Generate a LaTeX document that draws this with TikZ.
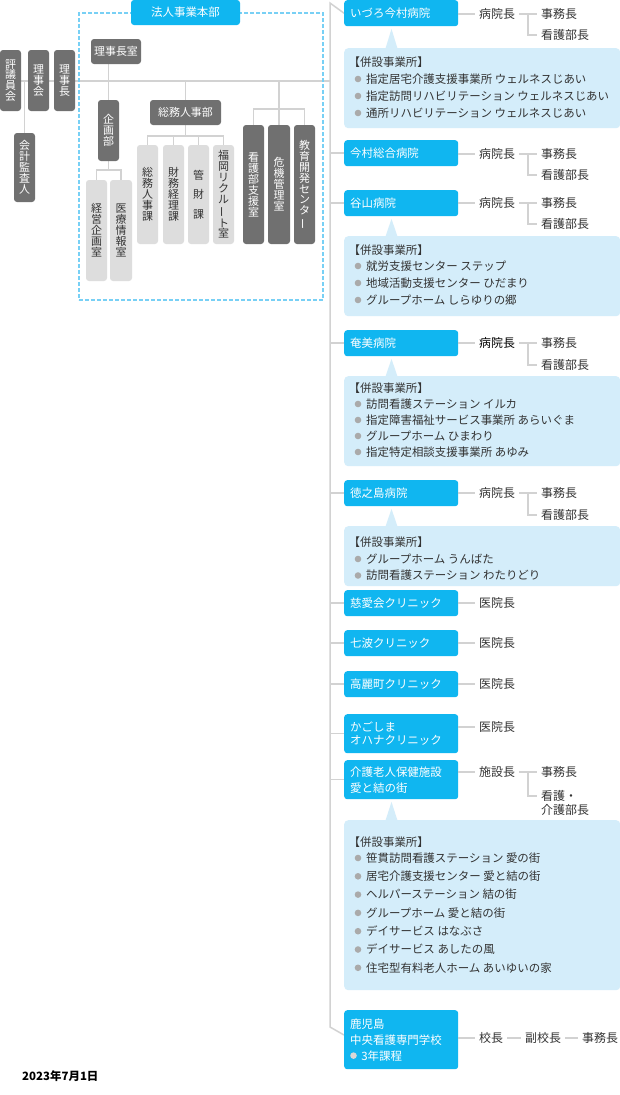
\documentclass[tikz,border=0pt]{standalone}
\usepackage{fontspec}
\setmainfont{Noto Sans CJK JP}
\usepackage{graphicx}
\usetikzlibrary{calc,backgrounds}
\definecolor{hblue}{RGB}{16,182,240}
\definecolor{cblue}{RGB}{212,237,250}
\definecolor{dblue}{RGB}{120,208,245}
\definecolor{dgray}{RGB}{112,112,112}
\definecolor{lgray}{RGB}{221,221,221}
\definecolor{lnc}{RGB}{210,210,210}
\definecolor{txt}{RGB}{51,51,51}
\definecolor{bulc}{RGB}{170,170,170}
\definecolor{bulw}{RGB}{215,215,215}
\newcommand{\vbar}{\rotatebox[origin=c]{90}{ー}}
\newcommand{\wbul}{\tikz[baseline={(0,-4.4bp)}]\fill[bulw] (0,0) circle (3.3bp);}
\tikzset{
 ln/.style={draw=lnc, line width=1.5bp},
 dbox/.style={fill=dgray, text=white, rounded corners=3bp, inner sep=0pt, align=center, font=\fontsize{11}{11}\selectfont},
 lbox/.style={fill=lgray, text=txt, rounded corners=3bp, inner sep=0pt, align=center, font=\fontsize{11}{11}\selectfont},
 hosp/.style={fill=hblue, text=white, rounded corners=3bp, text width=102bp, inner xsep=6bp, inner ysep=0pt, align=left, anchor=north west, minimum height=26bp, font=\fontsize{11.5}{16}\selectfont},
 cbox/.style={fill=cblue, rounded corners=4bp, minimum width=276bp, inner sep=0pt, anchor=north west},
 ctext/.style={text=txt, inner sep=0pt, anchor=west, font=\fontsize{11.5}{14}\selectfont},
 ttl/.style={text=txt, inner xsep=4bp, inner ysep=0pt, anchor=west, font=\fontsize{12}{14}\selectfont},
}
% callout: #1 name, #2 top, #3 height, #4 header y, #5 first y, #6 spacing, #7 items
\newcommand{\mkcallout}[7]{%
  \node[cbox, minimum height=#3bp] (#1) at (344,#2) {};
  \node[ctext] (#1h) at (348.5,#4) {【併設事業所】};
  \foreach \t [count=\i from 0] in {#7} {
    \fill[bulc] (358,{#5+\i*#6}) circle (3.3bp);
    \node[ctext] (#1l\i) at (366,{#5+\i*#6}) {\t};
  }
}
\newcommand{\pointer}[2]{%
  \fill[cblue] ($(#1.north west)+(41.5,0.5)$) -- ($(#2.south west)+(47.5,2.5)$) -- ($(#1.north west)+(53.5,0.5)$) -- cycle;
}
% trio: #1 idx, #2 y1, #3 y2, #4 first title, #5 colour
\newcommand{\trio}[5]{%
  \node[ttl, text=#5] (b#1) at (475,#2) {#4};
  \node[ttl] (j#1) at (537,#2) {事務長};
  \node[ttl] (k#1) at (537,#3) {看護部長};
  \draw[ln] (h#1.east |- b#1.west) -- (b#1.west);
  \draw[ln] (b#1.east) -- (j#1.west);
  \draw[ln] ($(b#1.east)!.5!(j#1.west)$) |- (k#1.west);
}
\newcommand{\solo}[3]{%
  \node[ttl] (b#1) at (475,#2) {#3};
  \draw[ln] (h#1.east |- b#1.west) -- (b#1.west);
}
\begin{document}
\begin{tikzpicture}[x=1bp,y=-1bp]
\useasboundingbox (0,0) rectangle (620,1095);

% ---------- left organisation ----------
\node[dbox, minimum width=21bp, minimum height=61bp] (hyogi) at (10.5,80.5) {評\\議\\員\\会};
\node[dbox, minimum width=21bp, minimum height=61bp] (rijikai) at (38.5,80.5) {理\\事\\会};
\node[dbox, minimum width=21bp, minimum height=61bp] (rijicho) at (64.5,80.5) {理\\事\\長};
\node[dbox, minimum width=21bp, minimum height=69bp] (kaikei) at (24.5,167.5) {会\\計\\監\\査\\人};

\node[draw=dblue, line width=1.3bp, dash pattern=on 4bp off 2bp, minimum width=244bp, minimum height=287bp, inner sep=0pt] (hq) at (201,156.5) {};
\node[fill=hblue, text=white, rounded corners=3bp, minimum width=109bp, minimum height=25bp, inner sep=0pt, font=\fontsize{11.5}{12}\selectfont] (honbu) at (185.5,12.5) {法人事業本部};

\node[dbox, minimum width=50bp, minimum height=25bp] (rjs) at (116,51.5) {理事長室};
\node[dbox, minimum width=21bp, minimum height=61bp] (kikaku) at (108.5,130.5) {企\\画\\部};
\node[lbox, minimum width=21bp, minimum height=101bp] (keiei) at (96.5,230.5) {経\\営\\企\\画\\室};
\node[lbox, minimum width=22bp, minimum height=101bp] (iryo) at (121,230.5) {医\\療\\情\\報\\室};

\node[dbox, minimum width=71bp, minimum height=25bp] (somu) at (185.5,112.5) {総務人事部};
\node[lbox, minimum width=21bp, minimum height=99bp] (s1) at (147.5,194.5) {総\\務\\人\\事\\課};
\node[lbox, minimum width=21bp, minimum height=99bp] (s2) at (173.5,194.5) {財\\務\\経\\理\\課};
\node[lbox, minimum width=21bp, minimum height=99bp, font=\fontsize{11}{19.5}\selectfont] (s3) at (198.5,194.5) {管\\財\\課};
\node[lbox, minimum width=21bp, minimum height=99bp] (s4) at (223.5,194.5) {福\\岡\\リ\\ク\\ル\\\vbar\\ト\\室};

\node[dbox, minimum width=21bp, minimum height=119bp] (r1) at (253.5,184.5) {看\\護\\部\\支\\援\\室};
\node[dbox, minimum width=22bp, minimum height=119bp] (r2) at (279,184.5) {危\\機\\管\\理\\室};
\node[dbox, minimum width=21bp, minimum height=119bp] (r3) at (304.5,184.5) {教\\育\\開\\発\\セ\\ン\\タ\\\vbar};

% ---------- right column ----------
\node[hosp] (h1) at (344,0) {いづろ今村病院};
\node[hosp] (h2) at (344,140) {今村総合病院};
\node[hosp] (h3) at (344,190) {谷山病院};
\node[hosp] (h4) at (344,330) {奄美病院};
\node[hosp] (h5) at (344,480) {徳之島病院};
\node[hosp] (h6) at (344,590) {慈愛会クリニック};
\node[hosp] (h7) at (344,630) {七波クリニック};
\node[hosp] (h8) at (344,671) {高麗町クリニック};
\node[hosp, minimum height=39bp, font=\fontsize{11.5}{13.5}\selectfont] (h9) at (344,714) {かごしま\\オハナクリニック};
\node[hosp, minimum height=39bp] (h10) at (344,760) {介護老人保健施設\\愛と結の街};
\node[hosp, minimum height=59bp] (h11) at (344,1010) {鹿児島\\中央看護専門学校\\\wbul\hspace{4.5bp}3年課程};

\mkcallout{c1}{48}{80}{62}{79}{17}{指定居宅介護支援事業所 ウェルネスじあい,指定訪問リハビリテーション ウェルネスじあい,通所リハビリテーション ウェルネスじあい}
\pointer{c1}{h1}
\mkcallout{c2}{236}{80}{250.5}{266}{17}{就労支援センター ステップ,地域活動支援センター ひだまり,グループホーム しらゆりの郷}
\pointer{c2}{h3}
\mkcallout{c3}{376}{90}{388}{404}{16}{訪問看護ステーション イルカ,指定障害福祉サービス事業所 あらいぐま,グループホーム ひまわり,指定特定相談支援事業所 あゆみ}
\pointer{c3}{h4}
\mkcallout{c4}{526}{60}{542}{559}{16.5}{グループホーム うんばた,訪問看護ステーション わたりどり}
\pointer{c4}{h5}
\mkcallout{c5}{820}{170}{842}{858}{18.3}{笹貫訪問看護ステーション 愛の街,居宅介護支援センター 愛と結の街,ヘルパーステーション 結の街,グループホーム 愛と結の街,デイサービス はなぶさ,デイサービス あしたの風,住宅型有料老人ホーム あいゆいの家}
\pointer{c5}{h10}

\trio{1}{14}{35}{病院長}{txt}
\trio{2}{154}{175}{病院長}{txt}
\trio{3}{203}{224}{病院長}{txt}
\trio{4}{343}{365}{病院長}{black}
\trio{5}{493}{515}{病院長}{txt}
\solo{6}{603}{医院長}
\solo{7}{643}{医院長}
\solo{8}{684}{医院長}
\solo{9}{727}{医院長}

\node[ttl] (b10) at (475,772) {施設長};
\node[ttl] (j10) at (537,772) {事務長};
\node[ttl, align=left] (k10) at (537,803) {看護・\\介護部長};
\draw[ln] (h10.east |- b10.west) -- (b10.west);
\draw[ln] (b10.east) -- (j10.west);
\draw[ln] ($(b10.east)!.5!(j10.west)$) |- ($(k10.west)+(0,-7)$);

\node[ttl] (b11) at (475,1038) {校長};
\node[ttl] (v11) at (521,1038) {副校長};
\node[ttl] (j11) at (578,1038) {事務長};
\draw[ln] (h11.east |- b11.west) -- (b11.west);
\draw[ln] (b11.east) -- (v11.west);
\draw[ln] (v11.east) -- (j11.west);

\node[anchor=west, inner sep=0pt, font=\fontsize{11.5}{13}\selectfont\bfseries] (date) at (22,1076) {2023年7月1日};

% ---------- connectors (behind) ----------
\begin{scope}[on background layer]
\fill[white] (0,0) rectangle (620,1095);
\coordinate (mtop) at (330,3);
\coordinate (mbot) at (330,1027);
\coordinate (jn) at (330,81);
\draw[ln] (h1.west) -- (mtop) -- (mbot) -- ($(h11.north west)+(0,25)$);
\foreach \h in {h2,h3,h4,h5,h6,h7,h8,h9,h10} \draw[ln] (\h.west -| mtop) -- (\h.west);
\draw[ln] (hyogi.center |- jn) -- (jn);
\draw[ln] (kaikei.north) -- (kaikei.north |- jn);
\draw[ln] (rjs.south -| kikaku.north) -- (kikaku.north);
\coordinate (kb) at ($(kikaku.south)+(0,9)$);
\draw[ln] (kikaku.south) -- (kb);
\draw[ln] (keiei.north) |- (kb) -| (iryo.north);
\draw[ln] (somu.north |- jn) -- (somu.north);
\coordinate (sb) at ($(somu.south)+(0,11)$);
\draw[ln] (somu.south) -- (sb);
\draw[ln] (s1.north) |- (sb) -| (s4.north);
\draw[ln] (s2.north) -- (s2.north |- sb);
\draw[ln] (s3.north) -- (s3.north |- sb);
\coordinate (rb) at (279,109);
\draw[ln] (r2.north |- jn) -- (r2.north);
\draw[ln] (r1.north) |- (rb) -| (r3.north);
\end{scope}
\end{tikzpicture}
\end{document}
